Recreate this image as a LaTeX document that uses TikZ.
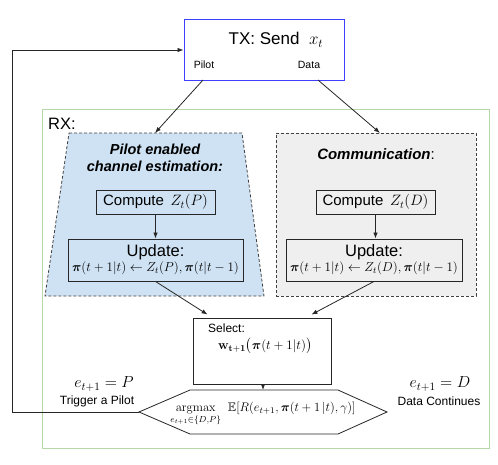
\RequirePackage{fix-cm}
\documentclass[tikz,border=0pt]{standalone}
\usepackage{amsmath,amssymb,bm}
\usepackage[no-math]{fontspec}
\setmainfont{Liberation Sans}
\usetikzlibrary{arrows.meta,positioning,calc}
\definecolor{txblue}{HTML}{3F3FFF}
\definecolor{rxgreen}{HTML}{B6D7A8}
\definecolor{pfill}{HTML}{CFE2F3}
\definecolor{gfill}{HTML}{EFEFEF}
\newcommand{\fs}[1]{\fontsize{#1}{#1}\selectfont}
\begin{document}
\begin{tikzpicture}[x=1pt,y=-1pt,
  conn/.style={draw=black!85,line width=0.8pt,-{Latex[length=6pt,width=4.5pt]}},
  plain/.style={draw=black!85,line width=0.8pt},
  box/.style={draw=black!85,line width=0.9pt,inner sep=0pt,align=center},
  region/.style={draw=black!75,line width=0.8pt,dash pattern=on 3pt off 2pt},
  lbl/.style={inner sep=0pt,align=center}]
\useasboundingbox (0,0) rectangle (498,464);
% RX region
\node[draw=rxgreen,line width=1pt,minimum width=447pt,minimum height=339pt,inner sep=0pt] (rx) at (265.5,278.5) {};
\node[lbl,anchor=west] (rxl) at (48,124) {\fs{16.5}RX:};
% TX
\node[draw=txblue,line width=1pt,minimum width=160pt,minimum height=61pt,inner sep=0pt] (tx) at (264,49.5) {};
\node[lbl] (txt) at (276,40) {\fs{17}TX: Send \ $x_t$};
\node[lbl] (pil) at (204,65) {\fs{10.5}Pilot};
\node[lbl] (dat) at (309,65) {\fs{10.5}Data};
\coordinate (txp) at (203,80);
\coordinate (txd) at (318,80);
% pilot trapezoid
\path[region,fill=pfill] (69,133) -- (242,133) -- (264,296) -- (45,296) -- cycle;
\coordinate (ptop) at (155,133);
\node[lbl] (ptitle) at (155,157.5) {\fs{14.5}\bfseries\itshape Pilot enabled\\[5pt]\fs{14.5}\bfseries\itshape channel estimation:};
% communication box
\node[region,fill=gfill,minimum width=200pt,minimum height=163pt,inner sep=0pt] (comm) at (376,214.5) {};
\node[lbl] (ctitle) at (376,154) {\fs{15}{\bfseries\itshape Communication}:};
% compute boxes
\node[box,minimum width=119pt,minimum height=24pt] (cp) at (155.5,202) {\fs{15}Compute \,$Z_t(P)$};
\node[box,minimum width=119pt,minimum height=24pt] (cd) at (375.5,202) {\fs{15}Compute \,$Z_t(D)$};
% update boxes
\node[box,fill=pfill,minimum width=175pt,minimum height=42pt] (up) at (155.5,260) {\fs{16.5}Update:\\[1pt]\fs{13}$\bm{\pi}(t+1|t)\leftarrow Z_t(P),\bm{\pi}(t|t-1)$};
\node[box,fill=gfill,minimum width=176pt,minimum height=42pt] (ud) at (374,260) {\fs{16.5}Update:\\[1pt]\fs{13}$\bm{\pi}(t+1|t)\leftarrow Z_t(D),\bm{\pi}(t|t-1)$};
% select
\node[box,fill=white,minimum width=138pt,minimum height=66pt] (sel) at (262,351) {};
\node[lbl,anchor=west] (selt) at (208,328) {\fs{12}Select:};
\node[lbl] (selm) at (265,346) {\fs{13}$\mathbf{w}_{\mathbf{t+1}}\big(\bm{\pi}(t+1|t)\big)$};
% hexagon
\path[plain,fill=white] (139,412) -- (190,390) -- (338,390) -- (387,412) -- (338,434) -- (190,434) -- cycle;
\coordinate (hl) at (139,412);
\coordinate (ht) at (263,390);
\node[lbl] (hext) at (263,414) {\fs{12.5}$\underset{\scriptstyle e_{t+1}\in\{D,P\}}{\mathrm{argmax}}\;\;\mathbb{E}[R(e_{t+1},\bm{\pi}(t+1\,|t),\gamma)]$};
% side labels
\node[lbl] (ep) at (104,384) {\fs{16}$e_{t+1}=P$};
\node[lbl] (tp) at (97,401) {\fs{12}Trigger a Pilot};
\node[lbl] (ed) at (440,384) {\fs{16}$e_{t+1}=D$};
\node[lbl] (dc) at (439,401) {\fs{12}Data Continues};
% connectors
\coordinate (fb1) at (12,412);
\coordinate (fb2) at (12,50);
\coordinate (ctop) at (380,133);
\draw[conn] (txp) -- (ptop);
\draw[conn] (txd) -- (ctop);
\draw[conn] (cp) -- (up);
\draw[conn] (cd.south) -- (cd.south |- ud.north);
\draw[conn] (up.south) -- ($(sel.north west)+(15,-3)$);
\draw[conn] (ud.south) -- ($(sel.north east)+(-20,-3)$);
\draw[conn] (sel.south) ++(1,0) coordinate (ss) -- (ss |- ht);
\draw[conn] (hl) -- (fb1) -- (fb2) -- (tx.west |- fb2);
\end{tikzpicture}
\end{document}
